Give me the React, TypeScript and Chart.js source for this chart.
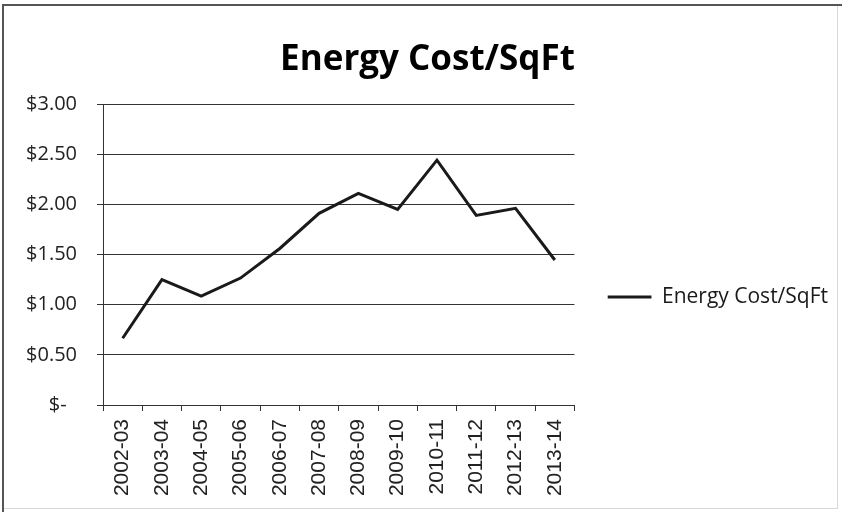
import React, { useEffect, useRef } from "react";
import { Chart, registerables } from "chart.js";

Chart.register(...registerables);

const chartTitle = "Energy Cost/SqFt";
const seriesName = "Energy Cost/SqFt";
const categories = [
  "2002-03", "2003-04", "2004-05", "2005-06", "2006-07", "2007-08",
  "2008-09", "2009-10", "2010-11", "2011-12", "2012-13", "2013-14",
];
const costPerSqFt = [0.665, 1.25, 1.085, 1.265, 1.56, 1.91, 2.11, 1.95, 2.44, 1.89, 1.96, 1.445];
const yMin = 0;
const yMax = 3;
const yStep = 0.5;

const framePlugin = {
  id: "frame",
  beforeDraw(chart: any) {
    const { ctx, width, height } = chart;
    ctx.save();
    ctx.fillStyle = "#ffffff";
    ctx.fillRect(0, 0, width, height);
    ctx.restore();
  },
  afterDraw(chart: any) {
    const { ctx, width, height } = chart;
    ctx.save();
    ctx.strokeStyle = "#d8d8d8";
    ctx.lineWidth = 1;
    ctx.beginPath();
    ctx.moveTo(width - 4.5, 5);
    ctx.lineTo(width - 4.5, height - 3);
    ctx.moveTo(2, height - 3.5);
    ctx.lineTo(width - 4, height - 3.5);
    ctx.stroke();
    ctx.strokeStyle = "#555555";
    ctx.lineWidth = 2;
    ctx.beginPath();
    ctx.moveTo(2, 5);
    ctx.lineTo(width, 5);
    ctx.moveTo(3, 4);
    ctx.lineTo(3, height);
    ctx.stroke();
    ctx.restore();
  },
};

export default function App() {
  const canvasRef = useRef<HTMLCanvasElement | null>(null);

  useEffect(() => {
    const canvas = canvasRef.current;
    if (!canvas) return;
    const chart = new Chart(canvas, {
      type: "line",
      data: {
        labels: categories,
        datasets: [
          {
            label: seriesName,
            data: costPerSqFt,
            borderColor: "#1a1a1a",
            backgroundColor: "#1a1a1a",
            borderWidth: 3,
            pointRadius: 0,
            pointHoverRadius: 0,
            tension: 0,
            fill: false,
          },
        ],
      },
      options: {
        responsive: false,
        animation: false,
        maintainAspectRatio: false,
        layout: { padding: { left: 17, right: 4, top: 0, bottom: 0 } },
        plugins: {
          tooltip: { enabled: false },
          title: {
            display: true,
            text: chartTitle,
            color: "#000000",
            font: { family: "'Open Sans'", size: 35, weight: "bold", lineHeight: 1.2 },
            padding: { top: 39, bottom: 23 },
          },
          legend: {
            display: true,
            position: "right",
            align: "center",
            maxWidth: 400,
            title: {
              display: true,
              text: "",
              font: { size: 10, lineHeight: 1.2 },
              padding: { top: 70, bottom: 0 },
            },
            labels: {
              color: "#1a1a1a",
              font: { family: "'Open Sans'", size: 21 },
              boxWidth: 44,
              boxHeight: 3,
              padding: 0,
              generateLabels: (chart: any) => {
                const items = Chart.defaults.plugins.legend.labels.generateLabels(chart);
                return items.map((it: any) => ({ ...it, lineWidth: 0, fillStyle: "#1a1a1a", strokeStyle: "#1a1a1a" }));
              },
            },
          },
        },
        scales: {
          x: {
            type: "category",
            offset: true,
            afterFit: (s: any) => {
              s.height = 107;
            },
            grid: {
              display: true,
              offset: true,
              drawOnChartArea: false,
              drawTicks: true,
              tickLength: 6,
              color: "#333333",
              lineWidth: 1,
            },
            border: { display: true, color: "#333333", width: 1 },
            ticks: {
              minRotation: 90,
              maxRotation: 90,
              autoSkip: false,
              padding: 8,
              color: "#222222",
              font: { family: "'Liberation Sans'", size: 21 },
            },
          },
          y: {
            type: "linear",
            position: "left",
            min: yMin,
            max: yMax,
            afterFit: (s: any) => {
              s.width = 86;
            },
            grid: {
              display: true,
              drawOnChartArea: true,
              drawTicks: true,
              tickLength: 6,
              color: "#333333",
              lineWidth: 1,
            },
            border: { display: true, color: "#333333", width: 1 },
            ticks: {
              stepSize: yStep,
              padding: 20,
              color: "#222222",
              font: { family: "'Open Sans'", size: 20 },
              callback: (v: any) => (Number(v) === 0 ? "$-  " : "$" + Number(v).toFixed(2)),
            },
          },
          spacer: {
            type: "linear",
            position: "right",
            display: true,
            afterFit: (s: any) => {
              s.width = 33;
            },
            grid: { display: false, drawTicks: false },
            border: { display: false },
            ticks: { display: false },
          },
        },
      },
      plugins: [framePlugin],
    } as any);
    return () => chart.destroy();
  }, []);

  return (
    <div style={{ position: "absolute", left: 0, top: 0, width: 842, height: 512 }}>
      <canvas ref={canvasRef} width={842} height={512} style={{ width: 842, height: 512, display: "block" }} />
    </div>
  );
}
